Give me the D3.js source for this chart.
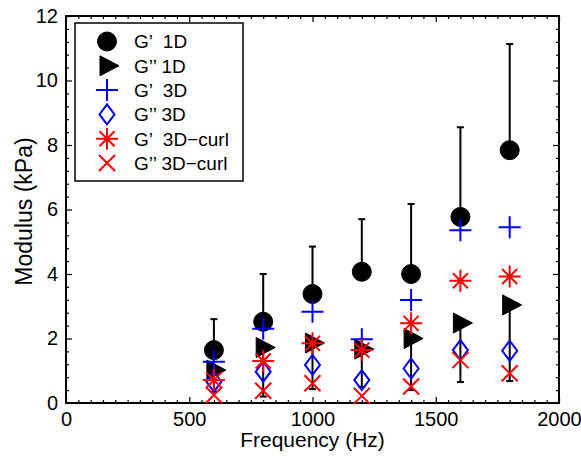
<!DOCTYPE html>
<html><head><meta charset="utf-8">
<script src="https://cdn.jsdelivr.net/npm/d3@7"></script>
<style>
body{margin:0;background:#fff;}
text{font-family:"Liberation Sans",Arial,Helvetica,sans-serif;}
</style></head>
<body><svg id="c" width="581" height="456"></svg>
<script>
const freq = [600, 800, 1000, 1200, 1400, 1600, 1800];
const g1D   = [1.64, 2.52, 3.38, 4.07, 4.00, 5.77, 7.84];
const g1DUp = [2.60, 4.00, 4.85, 5.70, 6.17, 8.55, 11.13];
const gg1D  = [1.02, 1.72, 1.86, 1.67, 2.00, 2.48, 3.04];
const gg1DLo= [0.35, 0.20, 0.43, 0.50, 0.40, 0.65, 0.68];
const g3D   = [1.28, 2.30, 2.83, 1.98, 3.19, 5.36, 5.45];
const gg3D  = [0.66, 0.97, 1.18, 0.71, 1.07, 1.64, 1.62];
const g3Dc  = [0.71, 1.30, 1.85, 1.64, 2.47, 3.79, 3.92];
const gg3Dc = [0.25, 0.38, 0.61, 0.22, 0.51, 1.33, 0.92];
const xTicks = [0, 500, 1000, 1500, 2000];
const yTicks = [0, 2, 4, 6, 8, 10, 12];
const legendLabels = ["G\u2019  1D", "G\u2019\u2019 1D", "G\u2019  3D", "G\u2019\u2019 3D", "G\u2019  3D\u2212curl", "G\u2019\u2019 3D\u2212curl"];

const svg = d3.select("#c");
const L=66, R=559, T=16, B=403;
const x = d3.scaleLinear([0,2000],[L,R]);
const y = d3.scaleLinear([0,12],[B,T]);
const FS = 20;

function styleAxis(g){
  g.select(".domain").remove();
  g.selectAll("line").attr("stroke","#000").attr("stroke-width",1.2);
  g.selectAll("text").attr("font-size",FS).attr("fill","#000");
}
const xMinor = d3.range(0,2001,50).filter(v=>v%500!==0);
const yMinor = d3.range(0,12.01,0.4).map(v=>+v.toFixed(1)).filter(v=>Math.abs(v/2-Math.round(v/2))>1e-6);

svg.append("g").attr("transform",`translate(0,${B})`)
  .call(d3.axisBottom(x).tickValues(xTicks).tickSize(-6).tickPadding(9).tickFormat(d3.format("d"))).call(styleAxis);
svg.append("g").attr("transform",`translate(0,${B})`)
  .call(d3.axisBottom(x).tickValues(xMinor).tickSize(-3).tickFormat("")).call(styleAxis);
svg.append("g").attr("transform",`translate(0,${T})`)
  .call(d3.axisTop(x).tickValues(xTicks).tickSize(-6).tickFormat("")).call(styleAxis);
svg.append("g").attr("transform",`translate(0,${T})`)
  .call(d3.axisTop(x).tickValues(xMinor).tickSize(-3).tickFormat("")).call(styleAxis);
svg.append("g").attr("transform",`translate(${L},0)`)
  .call(d3.axisLeft(y).tickValues(yTicks).tickSize(-6).tickPadding(8).tickFormat(d3.format("d"))).call(styleAxis);
svg.append("g").attr("transform",`translate(${L},0)`)
  .call(d3.axisLeft(y).tickValues(yMinor).tickSize(-3).tickFormat("")).call(styleAxis);
svg.append("g").attr("transform",`translate(${R},0)`)
  .call(d3.axisRight(y).tickValues(yTicks).tickSize(-6).tickFormat("")).call(styleAxis);
svg.append("g").attr("transform",`translate(${R},0)`)
  .call(d3.axisRight(y).tickValues(yMinor).tickSize(-3).tickFormat("")).call(styleAxis);

svg.append("rect").attr("x",L).attr("y",T).attr("width",R-L).attr("height",B-T)
  .attr("fill","none").attr("stroke","#000").attr("stroke-width",2);

svg.append("text").attr("x",(L+R)/2).attr("y",447).attr("text-anchor","middle")
  .attr("font-size",21).text("Frequency (Hz)");
svg.append("text").attr("transform",`translate(32,${(T+B)/2+2}) rotate(-90)`).attr("text-anchor","middle")
  .attr("font-size",23).text("Modulus (kPa)");

// markers
const markers = {
  circle: (g,c)=>g.append("circle").attr("r",9.5).attr("fill",c).attr("stroke",c),
  tri: (g,c)=>g.append("path").attr("d","M-7,-10L-7,10L12,0Z").attr("fill",c).attr("stroke",c).attr("stroke-width",1),
  plus: (g,c)=>g.append("path").attr("d","M-11,0H11M0,-11V11").attr("stroke",c).attr("stroke-width",2).attr("fill","none"),
  diamond: (g,c)=>g.append("path").attr("d","M0,-10L7.5,0L0,10L-7.5,0Z").attr("stroke",c).attr("stroke-width",2).attr("fill","none"),
  star: (g,c)=>g.append("path").attr("d","M-11,0H11M0,-11V11M-7.5,-7.5L7.5,7.5M-7.5,7.5L7.5,-7.5").attr("stroke",c).attr("stroke-width",2).attr("fill","none"),
  cross: (g,c)=>g.append("path").attr("d","M-8,-8L8,8M-8,8L8,-8").attr("stroke",c).attr("stroke-width",2).attr("fill","none")
};
const plot = svg.append("g");
function errBars(vals, ends){
  const g = plot.append("g").attr("stroke","#000").attr("stroke-width",2);
  freq.forEach((f,i)=>{
    g.append("line").attr("x1",x(f)).attr("x2",x(f)).attr("y1",y(vals[i])).attr("y2",y(ends[i]));
    g.append("line").attr("x1",x(f)-3.5).attr("x2",x(f)+3.5).attr("y1",y(ends[i])).attr("y2",y(ends[i]));
  });
}
function series(vals, type, color){
  freq.forEach((f,i)=>{
    const g = plot.append("g").attr("transform",`translate(${x(f)},${y(vals[i])})`);
    markers[type](g,color);
  });
}
errBars(g1D, g1DUp); series(g1D,"circle","#000");
errBars(gg1D, gg1DLo); series(gg1D,"tri","#000");
series(g3D,"plus","#0000ff");
series(gg3D,"diamond","#0000ff");
series(g3Dc,"star","#ff0000");
series(gg3Dc,"cross","#ff0000");

// legend
const types=["circle","tri","plus","diamond","star","cross"];
const cols=["#000","#000","#0000ff","#0000ff","#ff0000","#ff0000"];
const lg = svg.append("g");
lg.append("rect").attr("x",75).attr("y",23).attr("width",168).attr("height",158)
  .attr("fill","#fff").attr("stroke","#000").attr("stroke-width",1.5);
types.forEach((t,i)=>{
  const cy = 41.5 + i*24.3;
  const g = lg.append("g").attr("transform",`translate(107,${cy})`);
  markers[t](g,cols[i]);
  lg.append("text").attr("x",134).attr("y",cy).attr("dy","0.36em").attr("font-size",19)
    .style("white-space","pre").text(legendLabels[i]);
});
</script></body></html>
